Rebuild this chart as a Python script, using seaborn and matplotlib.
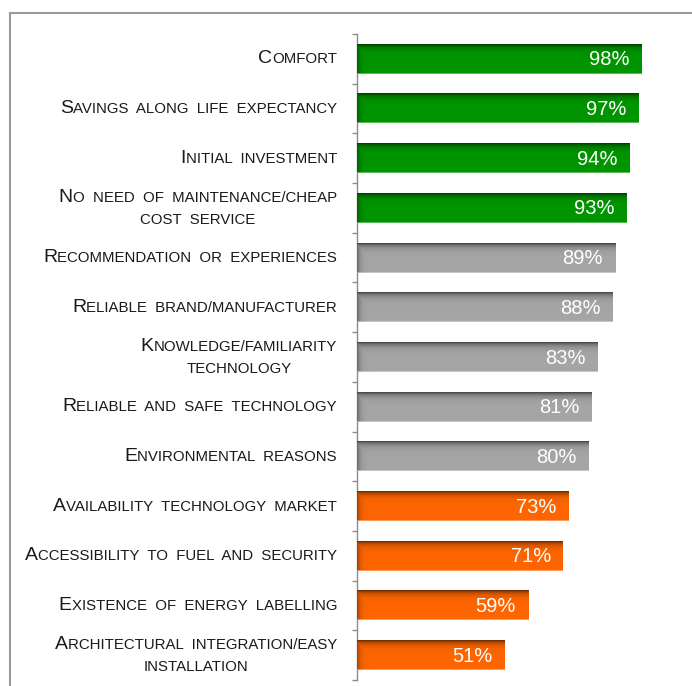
import matplotlib

matplotlib.use("Agg")
import matplotlib.pyplot as plt
import numpy as np
import pandas as pd
import seaborn as sns
from matplotlib import font_manager
from matplotlib.colors import to_rgb
from matplotlib.lines import Line2D
from matplotlib.offsetbox import AnnotationBbox, HPacker, TextArea, VPacker

categories = [
    "Comfort",
    "Savings along life expectancy",
    "Initial investment",
    "No need of maintenance/cheap\ncost service",
    "Recommendation or experiences",
    "Reliable brand/manufacturer",
    "Knowledge/familiarity\ntechnology",
    "Reliable and safe technology",
    "Environmental reasons",
    "Availability technology market",
    "Accessibility to fuel and security",
    "Existence of energy labelling",
    "Architectural integration/easy\ninstallation",
]
values = [98, 97, 94, 93, 89, 88, 83, 81, 80, 73, 71, 59, 51]
groups = ["high", "high", "high", "high",
          "mid", "mid", "mid", "mid", "mid",
          "low", "low", "low", "low"]
palette = {"high": "#009600", "mid": "#a6a6a6", "low": "#ff6600"}

TEXT_COLOR = "#1a1a1a"
LINE_COLOR = "#8c8c8c"
BIG, SMALL = 14.0, 10.8


def pick_font(names):
    have = {f.name for f in font_manager.fontManager.ttflist}
    for n in names:
        if n in have:
            return n
    return "DejaVu Sans"


LABEL_FONT = pick_font(["Liberation Sans", "DejaVu Sans"])
VALUE_FONT = pick_font(["Liberation Sans Narrow", "Liberation Sans", "DejaVu Sans"])


def small_caps(text):
    rows = []
    for i, line in enumerate(text.split("\n")):
        parts = []
        rest = line
        if i == 0:
            parts.append(TextArea(line[0].upper(), textprops=dict(
                size=BIG, color=TEXT_COLOR, family=LABEL_FONT)))
            rest = line[1:]
        parts.append(TextArea(rest.upper().replace(" ", "  "), textprops=dict(
            size=SMALL, color=TEXT_COLOR, family=LABEL_FONT)))
        rows.append(HPacker(children=parts, align="baseline", pad=0, sep=0))
    return VPacker(children=rows, align="center", pad=0, sep=5)


def shade_bar(ax, patch, px_per_x):
    base = np.array(to_rgb(patch.get_facecolor()))
    x0, y0 = patch.get_x(), patch.get_y()
    w, h = patch.get_width(), patch.get_height()
    rows, cols = 30, 300
    t = np.linspace(0, 1, rows)[:, None]
    d = np.linspace(0, w, cols)[None, :] * px_per_x
    shade = np.maximum(0.55 * np.exp(-t / 0.11), 0.35 * np.exp(-d / 3.0))
    img = base[None, None, :] * (1 - shade[..., None])
    img[-1] = img[-1] * 0.65 + 0.35
    ax.imshow(img, extent=(x0, x0 + w, y0 + h, y0), origin="upper",
              aspect="auto", interpolation="bilinear", zorder=3)
    patch.set_visible(False)


df = pd.DataFrame({"label": categories, "value": values, "group": groups})

fig = plt.figure(figsize=(6.92, 6.86), dpi=100)
ax = fig.add_axes([357 / 692, 6 / 686, 290 / 692, 646 / 686])

sns.barplot(data=df, x="value", y="label", hue="group", palette=palette,
            saturation=1, dodge=False, width=0.6, legend=False, ax=ax)
ax.set_xlim(0, 100)
xlim, ylim = ax.get_xlim(), ax.get_ylim()

px_per_x = ax.get_window_extent().width / (xlim[1] - xlim[0])
for patch in list(ax.patches):
    shade_bar(ax, patch, px_per_x)
    ax.annotate(f"{patch.get_width():.0f}%",
                xy=(patch.get_x() + patch.get_width(), patch.get_y() + patch.get_height() / 2),
                xytext=(-12, -1), textcoords="offset pixels", ha="right", va="center",
                color="white", fontsize=14.5, family=VALUE_FONT, zorder=5)
ax.set_xlim(xlim)
ax.set_ylim(ylim)

for i, label in enumerate(categories):
    ab = AnnotationBbox(small_caps(label), (0, i), xycoords=("axes fraction", "data"),
                        xybox=(-20, 0), boxcoords="offset pixels", box_alignment=(1, 0.5),
                        frameon=False, pad=0, annotation_clip=False)
    ax.add_artist(ab)

for side in ["top", "right", "bottom"]:
    ax.spines[side].set_visible(False)
ax.spines["left"].set_color(LINE_COLOR)
ax.spines["left"].set_linewidth(1)
ax.set_yticks(np.arange(-0.5, len(categories), 1))
ax.tick_params(axis="y", length=3.6, width=1, color=LINE_COLOR, labelleft=False)
ax.set_xticks([])
ax.set_xlabel("")
ax.set_ylabel("")

# outer frame (right and bottom edges run off the image)
fig.add_artist(Line2D([10 / 692, 10 / 692], [0, 1 - 13 / 686], transform=fig.transFigure,
                      color="#9a9a9a", lw=1.5))
fig.add_artist(Line2D([10 / 692, 1], [1 - 13 / 686, 1 - 13 / 686], transform=fig.transFigure,
                      color="#9a9a9a", lw=1.5))

fig.savefig("out.png", dpi=100)
plt.close(fig)
